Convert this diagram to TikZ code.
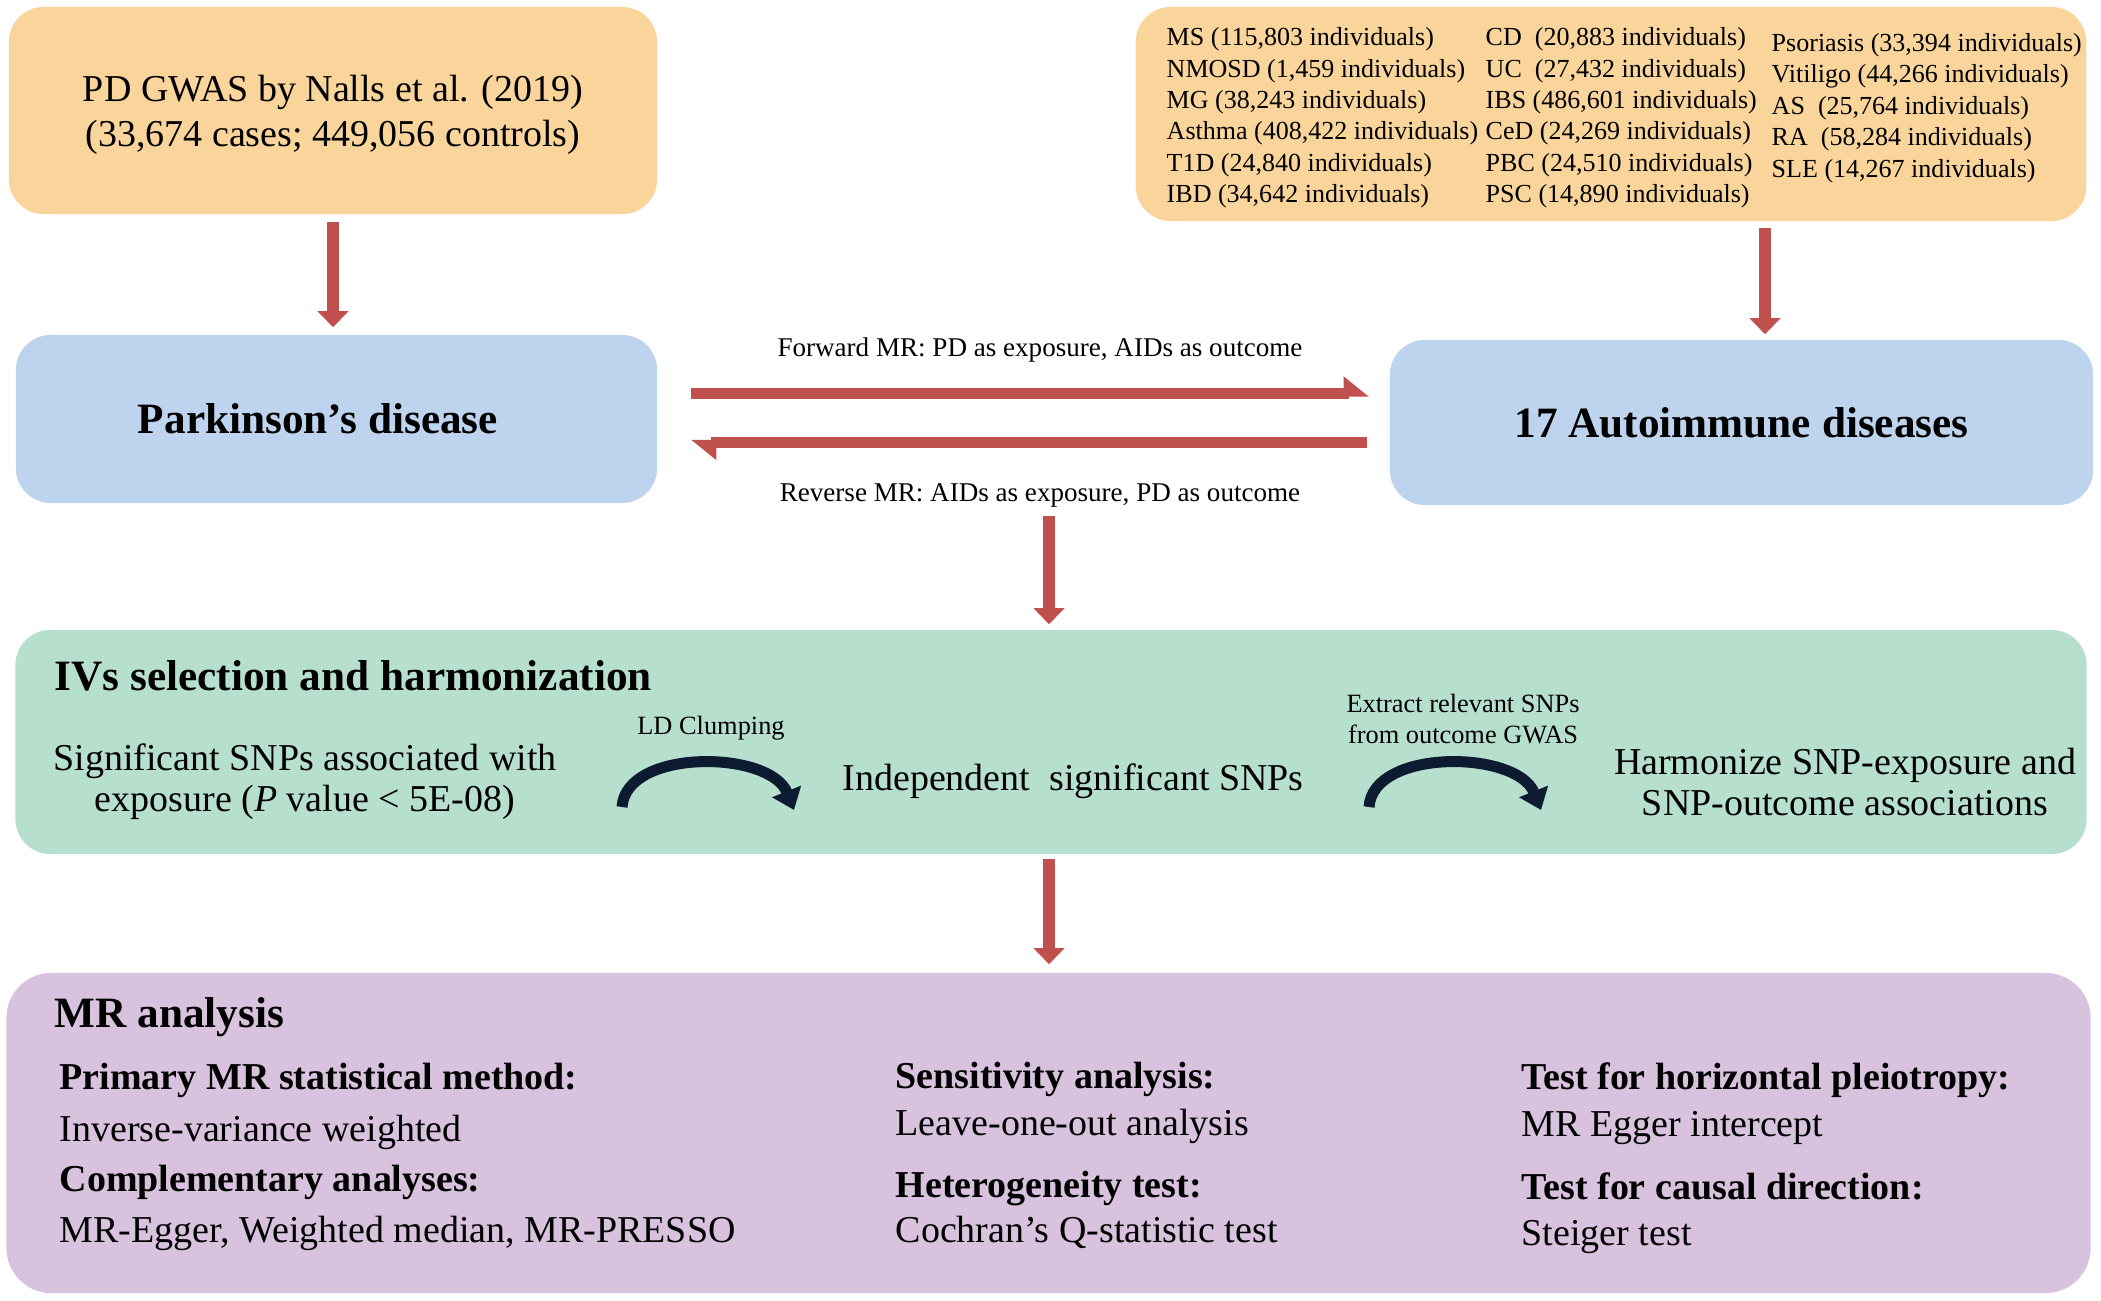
\documentclass[tikz,border=0pt]{standalone}
\usepackage{fontspec}
\setmainfont{Liberation Serif}
\usetikzlibrary{arrows.meta}
\definecolor{orangebox}{RGB}{249,213,155}
\definecolor{bluebox}{RGB}{190,212,238}
\definecolor{greenbox}{RGB}{183,223,206}
\definecolor{purplebox}{RGB}{216,194,222}
\definecolor{arrowred}{RGB}{192,80,77}
\definecolor{navy}{RGB}{12,27,48}
\tikzset{
  box/.style={rounded corners=0.35cm, inner sep=0pt},
  txt/.style={font=\fontsize{10.8}{13}\selectfont, inner sep=0pt, align=center},
  item/.style={font=\fontsize{10.8}{13}\selectfont, inner sep=0pt, anchor=base west},
  head/.style={font=\fontsize{12.3}{14}\selectfont\bfseries, inner sep=0pt},
  note/.style={font=\fontsize{7.5}{8.93}\selectfont, inner sep=0pt, align=center},
  list/.style={font=\fontsize{7.4}{8.93}\selectfont, inner sep=0pt, align=left, anchor=west},
  redarrow/.style={draw=arrowred, line width=0.12cm, -{Triangle[length=0.16cm,width=0.3cm]}},
  harp/.style={draw=arrowred, line width=0.11cm, -{Triangle[harpoon,length=0.22cm,width=0.34cm]}},
  curvarrow/.style={draw=navy, line width=0.11cm, -{Triangle[length=0.2cm,width=0.3cm]}}
}
\begin{document}
\begin{tikzpicture}[x=0.01cm,y=-0.01cm,line join=round]
\useasboundingbox (0,0) rectangle (2101,1300);
% data sources
\node[box, fill=orangebox, minimum width=6.48cm, minimum height=2.07cm] (gwaspd) at (333,110.5) {};
\node[txt] (gwastxt) at (333,115) {PD GWAS by Nalls et al. (2019)\\ (33,674 cases; 449,056 controls)};
\node[box, fill=orangebox, minimum width=9.5cm, minimum height=2.14cm] (gwasaid) at (1611,114) {};
\node[list] (aidlist1) at (1166,118) {MS (115,803 individuals)\\NMOSD (1,459 individuals)\\MG (38,243 individuals)\\Asthma (408,422 individuals)\\T1D (24,840 individuals)\\IBD (34,642 individuals)};
\node[list] (aidlist2) at (1485,118) {CD~ (20,883 individuals)\\UC~ (27,432 individuals)\\IBS (486,601 individuals)\\CeD (24,269 individuals)\\PBC (24,510 individuals)\\PSC (14,890 individuals)};
\node[list] (aidlist3) at (1771,108) {Psoriasis (33,394 individuals)\\Vitiligo (44,266 individuals)\\AS~ (25,764 individuals)\\RA~ (58,284 individuals)\\SLE (14,267 individuals)};
% exposures and outcomes
\node[box, fill=bluebox, minimum width=6.41cm, minimum height=1.68cm] (pd) at (336.5,419) {};
\node[head] (pdtxt) at (318,419) {Parkinson’s disease};
\node[box, head, fill=bluebox, minimum width=7.03cm, minimum height=1.65cm] (aids) at (1741.5,422.5) {17 Autoimmune diseases};
\draw[redarrow, shorten <=0.07cm, shorten >=0.07cm] (gwaspd.south) -- (gwaspd.south |- pd.north);
\coordinate (aidin) at (1765,221);
\draw[redarrow, shorten <=0.07cm, shorten >=0.05cm] (aidin) -- (aidin |- aids.north);
\draw[harp, shorten <=0.33cm, shorten >=0.2cm] ([yshift=0.25cm]pd.east) -- ([yshift=0.25cm]pd.east -| aids.west);
\draw[harp, shorten <=0.22cm, shorten >=0.33cm] ([yshift=-0.235cm]pd.east -| aids.west) -- ([yshift=-0.235cm]pd.east);
\node[note, font=\fontsize{7.7}{9}\selectfont] (fwlab) at (1040,350) {Forward MR: PD as exposure, AIDs as outcome};
\node[note, font=\fontsize{7.7}{9}\selectfont] (revlab) at (1040,495) {Reverse MR: AIDs as exposure, PD as outcome};
% IVs
\node[box, fill=greenbox, minimum width=20.7cm, minimum height=2.24cm] (ivs) at (1051,742) {};
\coordinate (ivsin) at (1049,516);
\draw[redarrow, shorten >=0.05cm] (ivsin) -- (ivsin |- ivs.north);
\node[head, anchor=base west] (ivstitle) at (54,690) {IVs selection and harmonization};
\node[txt, font=\fontsize{10.8}{11.7}\selectfont] (sigsnp) at (305,782) {Significant SNPs associated with\\ exposure (\textit{P} value < 5E-08)};
\node[note] (ldlab) at (711,728) {LD Clumping};
\node[txt] (indsnp) at (1073,781) {Independent~ significant SNPs};
\node[note] (extlab) at (1463,719) {Extract relevant SNPs\\from outcome GWAS};
\node[txt, font=\fontsize{10.8}{11.7}\selectfont] (harmon) at (1845,782) {Harmonize SNP-exposure and\\ SNP-outcome associations};
\coordinate (ld1) at (622,807);
\coordinate (ld2) at (794,810);
\draw[curvarrow] (ld1) .. controls (626,748) and (770,750) .. (ld2);
\coordinate (ex1) at (1369,807);
\coordinate (ex2) at (1541,810);
\draw[curvarrow] (ex1) .. controls (1373,748) and (1517,750) .. (ex2);
% MR analysis
\node[box, fill=purplebox, rounded corners=0.45cm, minimum width=20.83cm, minimum height=3.2cm] (mra) at (1048.5,1133) {};
\draw[redarrow, shorten <=0.04cm, shorten >=0.08cm] (ivs.south -| ivsin) -- (ivsin |- mra.north);
\node[head, anchor=base west] (mrtitle) at (54,1027) {MR analysis};
\foreach \x/\y/\t [count=\i] in {
  59/1089/\textbf{Primary MR statistical method:}, 59/1141/Inverse-variance weighted,
  59/1191/\textbf{Complementary analyses:}, 59/1242/{MR-Egger, Weighted median, MR-PRESSO},
  895/1088/\textbf{Sensitivity analysis:}, 895/1135/Leave-one-out analysis,
  895/1197/\textbf{Heterogeneity test:}, 895/1242/Cochran’s Q-statistic test,
  1521/1089/\textbf{Test for horizontal pleiotropy:}, 1521/1136/MR Egger intercept,
  1521/1199/\textbf{Test for causal direction:}, 1521/1245/Steiger test}
  {\node[item] (mr\i) at (\x,\y) {\t};}
\end{tikzpicture}
\end{document}
